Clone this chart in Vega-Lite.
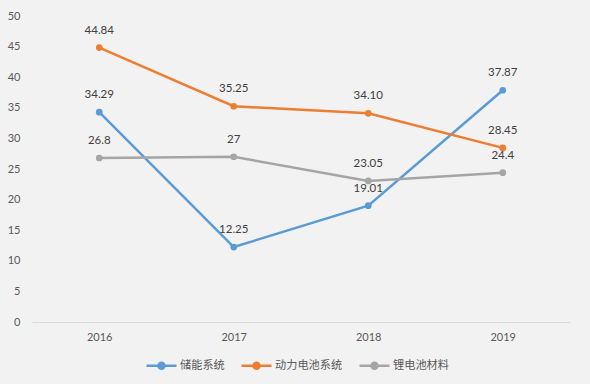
{
  "$schema": "https://vega.github.io/schema/vega-lite/v6.json",
  "autosize": {"type": "none"},
  "width": 538,
  "height": 306,
  "padding": {"left": 32, "top": 16, "right": 20, "bottom": 62},
  "background": "#F2F2F2",
  "config": {
    "view": {"stroke": null},
    "font": "Lato"
  },
  "data": {
    "values": [
      {"year": "2016", "series": "储能系统", "value": 34.29, "label": "34.29"},
      {"year": "2017", "series": "储能系统", "value": 12.25, "label": "12.25"},
      {"year": "2018", "series": "储能系统", "value": 19.01, "label": "19.01"},
      {"year": "2019", "series": "储能系统", "value": 37.87, "label": "37.87"},
      {"year": "2016", "series": "动力电池系统", "value": 44.84, "label": "44.84"},
      {"year": "2017", "series": "动力电池系统", "value": 35.25, "label": "35.25"},
      {"year": "2018", "series": "动力电池系统", "value": 34.10, "label": "34.10"},
      {"year": "2019", "series": "动力电池系统", "value": 28.45, "label": "28.45"},
      {"year": "2016", "series": "锂电池材料", "value": 26.8, "label": "26.8"},
      {"year": "2017", "series": "锂电池材料", "value": 27, "label": "27"},
      {"year": "2018", "series": "锂电池材料", "value": 23.05, "label": "23.05"},
      {"year": "2019", "series": "锂电池材料", "value": 24.4, "label": "24.4"}
    ]
  },
  "encoding": {
    "x": {
      "field": "year", "type": "ordinal", "title": null,
      "scale": {"paddingInner": 0, "paddingOuter": 0.5},
      "axis": {"labelAngle": 0, "domainColor": "#D9D9D9", "ticks": false, "labelPadding": 9, "labelColor": "#595959", "labelFontSize": 11, "grid": false}
    },
    "y": {
      "field": "value", "type": "quantitative", "title": null,
      "scale": {"domain": [0, 50]},
      "axis": {"values": [0, 5, 10, 15, 20, 25, 30, 35, 40, 45, 50], "grid": false, "domain": false, "ticks": false, "labelPadding": 12, "labelColor": "#595959", "labelFontSize": 11}
    },
    "color": {
      "field": "series", "type": "nominal", "title": null,
      "scale": {"domain": ["储能系统", "动力电池系统", "锂电池材料"], "range": ["#5B9BD5", "#ED7D31", "#A5A5A5"]},
      "legend": {
        "orient": "none", "direction": "horizontal", "legendX": 113, "legendY": 333,
        "symbolType": "M-1,0L1,0M-0.2,0A0.2,0.2 0 1,1 0.2,0A0.2,0.2 0 1,1 -0.2,0Z",
        "symbolSize": 900, "symbolStrokeWidth": 2.5,
        "labelFont": "Noto Sans CJK SC", "labelFontSize": 11.2, "labelColor": "#595959",
        "columnPadding": 11, "labelOffset": 2,
        "encode": {"symbols": {"update": {"fill": {"scale": "color", "field": "value"}, "stroke": {"scale": "color", "field": "value"}}}}
      }
    }
  },
  "layer": [
    {"mark": {"type": "line", "strokeWidth": 2.5, "point": {"filled": true, "size": 45}}},
    {"mark": {"type": "text", "dy": -17, "fontSize": 11.5, "color": "#404040"}, "encoding": {"text": {"field": "label"}, "color": {"value": "#404040"}}}
  ]
}
